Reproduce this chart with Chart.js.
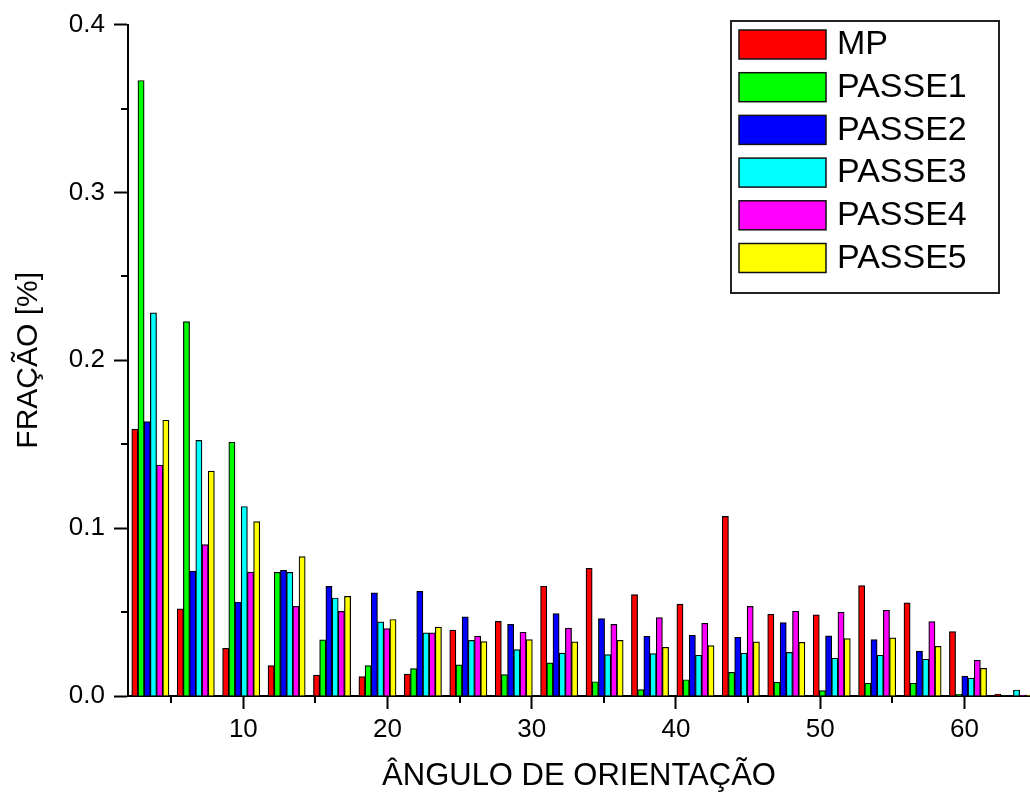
<!DOCTYPE html>
<html>
<head>
<meta charset="utf-8">
<title>Fração por ângulo de orientação</title>
<script src="https://cdn.jsdelivr.net/npm/chart.js@4.4.1/dist/chart.umd.min.js"></script>
<style>
  html, body { margin: 0; padding: 0; background: #fff; }
  canvas { display: block; }
</style>
</head>
<body>
<canvas id="chart" width="1030" height="796"></canvas>
<script>
// Bin centres (degrees)
const angles = [3.55, 6.70, 9.85, 13.00, 16.15, 19.30, 22.45, 25.60, 28.75, 31.90,
                35.05, 38.20, 41.35, 44.50, 47.65, 50.80, 53.95, 57.10, 60.25, 63.40];

// Fraction per bin for each condition
const mp     = [0.1590, 0.0519, 0.0284, 0.0181, 0.0125, 0.0116, 0.0131, 0.0392, 0.0445, 0.0654,
                0.0761, 0.0604, 0.0547, 0.1070, 0.0487, 0.0483, 0.0658, 0.0555, 0.0384, 0.0012];
const passe1 = [0.3667, 0.2231, 0.1512, 0.0737, 0.0335, 0.0181, 0.0163, 0.0185, 0.0127, 0.0197,
                0.0085, 0.0038, 0.0097, 0.0141, 0.0082, 0.0032, 0.0076, 0.0076, 0.0010, 0.0003];
const passe2 = [0.1635, 0.0744, 0.0560, 0.0749, 0.0653, 0.0614, 0.0623, 0.0471, 0.0427, 0.0491,
                0.0461, 0.0356, 0.0362, 0.0350, 0.0437, 0.0358, 0.0336, 0.0268, 0.0119, 0.0003];
const passe3 = [0.2283, 0.1523, 0.1129, 0.0737, 0.0584, 0.0442, 0.0376, 0.0332, 0.0276, 0.0256,
                0.0247, 0.0252, 0.0243, 0.0255, 0.0260, 0.0225, 0.0243, 0.0219, 0.0107, 0.0036];
const passe4 = [0.1375, 0.0902, 0.0738, 0.0534, 0.0504, 0.0402, 0.0376, 0.0356, 0.0380, 0.0404,
                0.0427, 0.0467, 0.0433, 0.0534, 0.0505, 0.0499, 0.0511, 0.0443, 0.0213, 0.0005];
const passe5 = [0.1643, 0.1340, 0.1039, 0.0831, 0.0594, 0.0456, 0.0410, 0.0324, 0.0336, 0.0322,
                0.0332, 0.0290, 0.0300, 0.0322, 0.0320, 0.0342, 0.0346, 0.0296, 0.0165, 0.0005];

const seriesNames  = ['MP', 'PASSE1', 'PASSE2', 'PASSE3', 'PASSE4', 'PASSE5'];
const seriesValues = [mp, passe1, passe2, passe3, passe4, passe5];
const seriesColors = ['#ff0000', '#00ff00', '#0000ff', '#00ffff', '#ff00ff', '#ffff00'];

const xTitle = 'ÂNGULO DE ORIENTAÇÃO';
const yTitle = 'FRAÇÃO [%]';

const FONT = "'Liberation Sans', Arial, Helvetica, sans-serif";

const near = (a, b) => Math.abs(a - b) < 1e-6;
const isMajorX = v => near(v / 10, Math.round(v / 10));
const isMajorY = v => near(v * 10, Math.round(v * 10));
const isStep5 = v => near(v / 5, Math.round(v / 5));

// Short (minor) tick marks drawn outside the axes
const minorTicks = {
  id: 'minorTicks',
  afterDraw(chart) {
    const { ctx, chartArea, scales } = chart;
    ctx.save();
    ctx.strokeStyle = '#000';
    ctx.lineWidth = 2;
    scales.x.ticks.forEach(t => {
      if (isMajorX(t.value)) return;
      const px = Math.round(scales.x.getPixelForValue(t.value));
      ctx.beginPath();
      ctx.moveTo(px, chartArea.bottom);
      ctx.lineTo(px, chartArea.bottom + 7);
      ctx.stroke();
    });
    scales.y.ticks.forEach(t => {
      if (isMajorY(t.value)) return;
      const py = Math.round(scales.y.getPixelForValue(t.value));
      ctx.beginPath();
      ctx.moveTo(chartArea.left, py);
      ctx.lineTo(chartArea.left - 7, py);
      ctx.stroke();
    });
    ctx.restore();
  }
};

// Boxed legend in the upper right corner
const boxedLegend = {
  id: 'boxedLegend',
  afterDraw(chart) {
    const { ctx } = chart;
    const box = { x: 731, y: 21, w: 268, h: 272 };
    ctx.save();
    ctx.fillStyle = '#fff';
    ctx.fillRect(box.x, box.y, box.w, box.h);
    ctx.strokeStyle = '#222';
    ctx.lineWidth = 2;
    ctx.strokeRect(box.x, box.y, box.w, box.h);
    ctx.font = '34px ' + FONT;
    ctx.textBaseline = 'middle';
    ctx.textAlign = 'left';
    chart.data.datasets.forEach((ds, i) => {
      const top = 30 + i * 42.7;
      ctx.fillStyle = ds.backgroundColor;
      ctx.fillRect(739, top, 87, 29);
      ctx.strokeStyle = '#111';
      ctx.lineWidth = 1.5;
      ctx.strokeRect(739, top, 87, 29);
      ctx.fillStyle = '#000';
      ctx.fillText(ds.label, 837, top + 15);
    });
    ctx.restore();
  }
};

const datasets = seriesNames.map((name, i) => ({
  label: name,
  data: seriesValues[i],
  backgroundColor: seriesColors[i],
  borderColor: '#000',
  borderWidth: 1.2,
  borderSkipped: 'start',
  barThickness: 6.2
}));

new Chart(document.getElementById('chart'), {
  type: 'bar',
  data: { labels: angles, datasets },
  plugins: [minorTicks, boxedLegend],
  options: {
    responsive: false,
    animation: false,
    devicePixelRatio: 1,
    layout: { padding: { top: 24, right: 0, bottom: 0, left: 0 } },
    plugins: {
      legend: { display: false },
      tooltip: { enabled: false }
    },
    scales: {
      x: {
        type: 'linear',
        position: 'bottom',
        offset: false,
        min: 2.0,
        max: 64.55,
        z: 1,
        afterFit(scale) { scale.height = 100; },
        afterBuildTicks(scale) {
          scale.ticks = scale.ticks.filter(t => isStep5(t.value));
        },
        ticks: {
          stepSize: 5,
          includeBounds: false,
          maxTicksLimit: 100,
          autoSkip: false,
          maxRotation: 0,
          padding: 5,
          color: '#000',
          font: { family: FONT, size: 26 },
          callback: v => (isMajorX(v) ? String(Math.round(v)) : '')
        },
        grid: {
          offset: false,
          drawOnChartArea: false,
          drawTicks: true,
          tickLength: 13,
          tickWidth: 2,
          tickColor: c => (c.tick && isMajorX(c.tick.value) ? '#000' : 'rgba(0,0,0,0)')
        },
        border: { display: true, color: '#000', width: 2 },
        title: {
          display: true,
          text: xTitle,
          color: '#000',
          font: { family: FONT, size: 31 },
          padding: { top: 0, bottom: 1 }
        }
      },
      y: {
        type: 'linear',
        position: 'left',
        min: 0,
        max: 0.4,
        z: 1,
        afterFit(scale) { scale.width = 128; },
        ticks: {
          stepSize: 0.05,
          maxTicksLimit: 100,
          autoSkip: false,
          padding: 9,
          color: '#000',
          font: { family: FONT, size: 26 },
          callback: v => (isMajorY(v) ? v.toFixed(1) : '')
        },
        grid: {
          drawOnChartArea: false,
          drawTicks: true,
          tickLength: 14,
          tickWidth: 2,
          tickColor: c => (c.tick && isMajorY(c.tick.value) ? '#000' : 'rgba(0,0,0,0)')
        },
        border: { display: true, color: '#000', width: 2 },
        title: {
          display: true,
          text: yTitle,
          color: '#000',
          font: { family: FONT, size: 30 },
          padding: { top: 11, bottom: 0 }
        }
      }
    }
  }
});
</script>
</body>
</html>
